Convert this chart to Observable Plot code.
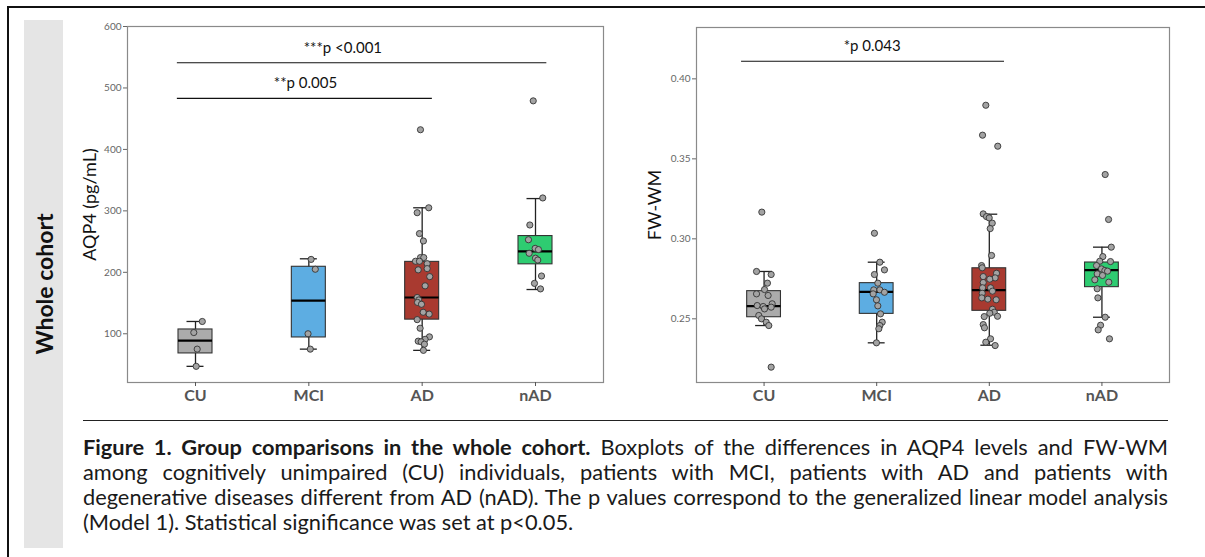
<!DOCTYPE html>
<html>
<head>
<meta charset="utf-8">
<script src="https://cdn.jsdelivr.net/npm/d3@7"></script>
<script src="https://cdn.jsdelivr.net/npm/@observablehq/plot@0.6"></script>
<style>
  html, body { margin: 0; padding: 0; background: #fff; }
  body { width: 1205px; height: 557px; position: relative; overflow: hidden; font-family: Lato, "Open Sans", sans-serif; }
  .outer { position: absolute; left: 7px; top: 6px; width: 1210px; height: 570px; border-top: 2px solid #111; border-left: 2px solid #111; }
  .band { position: absolute; left: 24px; top: 20px; width: 39px; height: 528px; background: #e5e5e5; display: flex; align-items: center; justify-content: center; }
  .band span { transform: rotate(-90deg); white-space: nowrap; font-weight: bold; font-size: 23px; color: #111; }
  .panel { position: absolute; top: 0; }
  .rule { position: absolute; left: 83px; top: 420px; width: 1085px; border-top: 1.5px solid #222; }
  .caption { position: absolute; left: 83px; top: 434px; width: 1085px; font-size: 21.8px; line-height: 25px; color: #1a1a1a; }
  .caption div { text-align: justify; text-align-last: justify; white-space: nowrap; height: 25px; }
  .caption div.last { text-align: left; text-align-last: left; }
</style>
</head>
<body>
<div class="outer"></div>
<div class="band"><span>Whole cohort</span></div>
<div class="panel" id="left" style="left:60px"></div>
<div class="panel" id="right" style="left:620px"></div>
<div class="rule"></div>
<div class="caption" id="caption"></div>
<script>
// ---------- categories & colours ----------
const groups = ["CU", "MCI", "AD", "nAD"];
const groupColors = ["#ababab", "#5dade2", "#a93a30", "#2ecc71"];

// ---------- caption ----------
const captionTitle = "Figure 1. Group comparisons in the whole cohort.";
const captionLines = [
  " Boxplots of the differences in AQP4 levels and FW-WM",
  "among cognitively unimpaired (CU) individuals, patients with MCI, patients with AD and patients with",
  "degenerative diseases different from AD (nAD). The p values correspond to the generalized linear model analysis",
  "(Model 1). Statistical significance was set at p<0.05."
];

// ---------- AQP4 (pg/mL) ----------
const aqpTicks = [100, 200, 300, 400, 500, 600];
const aqpQ1  = [68, 94, 123, 213];
const aqpMed = [89, 154, 159, 234];
const aqpQ3  = [107, 209, 217, 259];
const aqpLo  = [47, 75, 73, 172];
const aqpHi  = [120, 222, 305, 320];
const aqpCU  = [120, 102, 75, 47];
const aqpCUJit = [0.06, -0.015, 0.015, 0.006];
const aqpMCI = [221, 205, 100, 75];
const aqpMCIJit = [0.02, 0.057, -0.007, 0.013];
const aqpAD  = [305, 297, 263, 251, 224, 224, 218, 218, 214, 204, 206, 193, 178, 159, 155, 151, 148, 135, 132, 123, 109, 95, 91, 88, 87, 83, 73, 432];
const aqpADJit = [0.058, -0.044, -0.024, 0.011, -0.015, 0.014, -0.059, -0.024, 0.044, -0.035, 0.044, 0.067, 0.026, -0.044, -0.03, -0.041, -0.006, 0.009, 0.062, -0.044, -0.018, 0.064, 0.026, -0.035, -0.009, 0.02, 0.011, -0.015];
const aqpNAD = [479, 321, 277, 253, 239, 237, 231, 223, 220, 194, 182, 173];
const aqpNADJit = [-0.02, 0.064, -0.05, -0.062, -0.003, 0.026, -0.056, 0, 0.02, 0.053, -0.009, 0.044];
const aqpSigLabels = ["***p <0.001", "**p 0.005"];
const aqpSigFrom = [0.84, 0.84];
const aqpSigTo = [4.1, 3.09];
const aqpSigY = [541, 483];
const aqpSigLabelX = [2.30, 1.97];
const aqpSigLabelY = [564, 507];

// ---------- FW-WM ----------
const fwTicks = [0.25, 0.30, 0.35, 0.40];
const fwQ1  = [0.2510, 0.2531, 0.2550, 0.2698];
const fwMed = [0.2579, 0.2669, 0.2679, 0.2804];
const fwQ3  = [0.2673, 0.2723, 0.2816, 0.2852];
const fwLo  = [0.2458, 0.2350, 0.2335, 0.2510];
const fwHi  = [0.2796, 0.2854, 0.3154, 0.2948];
const fwCU = [0.3167, 0.2796, 0.2777, 0.2723, 0.2683, 0.2656, 0.2646, 0.2583, 0.2577, 0.2594, 0.2573, 0.2562, 0.2521, 0.2500, 0.2479, 0.2458, 0.2198];
const fwCUJit = [-0.02, -0.067, 0.063, 0.03, 0.004, -0.067, 0.036, -0.061, -0.008, 0.072, 0.063, 0.004, -0.047, -0.023, 0.019, 0.042, 0.063];
const fwMCI = [0.3035, 0.2854, 0.2806, 0.2777, 0.2723, 0.2681, 0.2681, 0.2666, 0.2656, 0.2619, 0.2581, 0.2531, 0.2479, 0.2458, 0.2438, 0.2350];
const fwMCIJit = [-0.02, 0.028, 0.069, -0.02, 0.01, -0.026, 0.028, 0.069, -0.031, -0.002, 0.01, 0.034, 0.049, 0.028, 0.019, -0.002];
const fwAD = [0.3835, 0.3648, 0.3579, 0.3156, 0.3139, 0.3131, 0.3098, 0.3064, 0.2896, 0.2833, 0.2819, 0.2785, 0.2764, 0.2756, 0.2748, 0.2727, 0.2694, 0.2694, 0.2673, 0.2660, 0.2631, 0.2623, 0.2619, 0.2560, 0.2541, 0.2535, 0.2516, 0.2514, 0.2464, 0.2444, 0.2375, 0.2354, 0.2333];
const fwADJit = [-0.031, -0.06, 0.075, -0.054, -0.025, -0.001, 0.026, 0.008, 0.02, -0.069, -0.063, 0.064, -0.054, 0.052, 0.004, -0.054, -0.06, 0.011, 0.028, -0.063, -0.067, -0.013, 0.061, 0.028, 0.044, 0.004, 0.073, -0.045, -0.054, -0.043, 0.011, -0.031, 0.052];
const fwNAD = [0.3402, 0.3121, 0.2948, 0.2889, 0.2860, 0.2858, 0.2833, 0.2812, 0.2802, 0.2798, 0.2781, 0.2771, 0.2744, 0.2729, 0.2688, 0.2631, 0.2510, 0.2460, 0.2431, 0.2375];
const fwNADJit = [0.029, 0.059, 0.083, 0.008, -0.019, 0.076, -0.048, -0.004, 0.026, 0.05, -0.042, 0.005, -0.063, 0.061, -0.042, -0.036, 0.029, -0.012, -0.033, 0.067];
const fwSigLabels = ["*p 0.043"];
const fwSigFrom = [0.80];
const fwSigTo = [3.135];
const fwSigY = [0.411];
const fwSigLabelX = [1.96];
const fwSigLabelY = [0.4202];

// ---------- caption build ----------
const cap = document.getElementById("caption");
captionLines.forEach((line, k) => {
  const div = document.createElement("div");
  if (k === captionLines.length - 1) div.className = "last";
  if (k === 0) {
    const b = document.createElement("b");
    b.textContent = captionTitle;
    div.append(b);
  }
  div.append(document.createTextNode(line));
  cap.append(div);
});

// ---------- build ----------
function panel(cfg) {
  const boxes = groups.map((g, i) => ({
    g, i: i + 1, q1: cfg.q1[i], med: cfg.med[i], q3: cfg.q3[i], lo: cfg.lo[i], hi: cfg.hi[i], color: groupColors[i]
  }));
  const pts = [];
  cfg.values.forEach((vals, gi) => vals.forEach((v, j) => pts.push({ x: gi + 1 + cfg.jit[gi][j], y: v })));
  const sig = cfg.sigLabels.map((t, k) => ({ t, x1: cfg.sigFrom[k], x2: cfg.sigTo[k], y: cfg.sigY[k], lx: cfg.sigLabelX[k], ly: cfg.sigLabelY[k] }));
  const BW = 0.15, CW = 0.075;
  return Plot.plot({
    width: cfg.width, height: 410,
    marginLeft: cfg.ml, marginRight: cfg.mr, marginTop: cfg.mt, marginBottom: 28,
    style: { fontFamily: "Lato, 'Open Sans', sans-serif", background: "transparent", overflow: "visible" },
    x: { type: "linear", domain: [0.4, 4.6] },
    y: { type: "linear", domain: cfg.ydomain },
    marks: [
      Plot.frame({ stroke: "#8a8a8a", strokeWidth: 1.2 }),
      Plot.axisY({ ticks: cfg.ticks, tickFormat: cfg.fmt, tickSize: 4, tickPadding: 2, fontSize: 10, color: "#666", label: null }),
      Plot.axisX({ ticks: [1, 2, 3, 4], tickFormat: d => groups[d - 1], tickSize: 4, tickPadding: 3, fontSize: 16, fontWeight: "bold", color: "#555", label: null }),
      Plot.text([cfg.title], { frameAnchor: "left", textAnchor: "middle", rotate: -90, dx: -cfg.titleOffset, fontSize: 18, fill: "#111" }),
      // whiskers + caps
      Plot.ruleX(boxes, { x: "i", y1: "lo", y2: "hi", stroke: "#222", strokeWidth: 1.3 }),
      Plot.ruleY(boxes, { y: "lo", x1: d => d.i - CW, x2: d => d.i + CW, stroke: "#222", strokeWidth: 1.3 }),
      Plot.ruleY(boxes, { y: "hi", x1: d => d.i - CW, x2: d => d.i + CW, stroke: "#222", strokeWidth: 1.3 }),
      // boxes
      Plot.rect(boxes, { x1: d => d.i - BW, x2: d => d.i + BW, y1: "q1", y2: "q3", fill: "color", stroke: "#333", strokeWidth: 1.1 }),
      Plot.ruleY(boxes, { y: "med", x1: d => d.i - BW, x2: d => d.i + BW, stroke: "#000", strokeWidth: 2.2 }),
      // jittered points
      Plot.dot(pts, { x: "x", y: "y", r: 3.1, fill: "#a3a3a3", stroke: "#333", strokeWidth: 0.9 }),
      // significance annotations
      Plot.ruleY(sig, { y: "y", x1: "x1", x2: "x2", stroke: "#111", strokeWidth: 1.2 }),
      Plot.text(sig, { x: "lx", y: "ly", text: "t", fontSize: 15, fill: "#111" })
    ]
  });
}

document.getElementById("left").append(panel({
  width: 560, ml: 67, mr: 17, mt: 26,
  ydomain: [20.7, 600], ticks: aqpTicks, fmt: d3.format("d"),
  title: "AQP4 (pg/mL)", titleOffset: 37,
  q1: aqpQ1, med: aqpMed, q3: aqpQ3, lo: aqpLo, hi: aqpHi,
  values: [aqpCU, aqpMCI, aqpAD, aqpNAD], jit: [aqpCUJit, aqpMCIJit, aqpADJit, aqpNADJit],
  sigLabels: aqpSigLabels, sigFrom: aqpSigFrom, sigTo: aqpSigTo, sigY: aqpSigY, sigLabelX: aqpSigLabelX, sigLabelY: aqpSigLabelY
}));

document.getElementById("right").append(panel({
  width: 580, ml: 76, mr: 31, mt: 27,
  ydomain: [0.2102, 0.4321], ticks: fwTicks, fmt: d3.format(".2f"),
  title: "FW-WM", titleOffset: 41,
  q1: fwQ1, med: fwMed, q3: fwQ3, lo: fwLo, hi: fwHi,
  values: [fwCU, fwMCI, fwAD, fwNAD], jit: [fwCUJit, fwMCIJit, fwADJit, fwNADJit],
  sigLabels: fwSigLabels, sigFrom: fwSigFrom, sigTo: fwSigTo, sigY: fwSigY, sigLabelX: fwSigLabelX, sigLabelY: fwSigLabelY
}));
</script>
</body>
</html>
